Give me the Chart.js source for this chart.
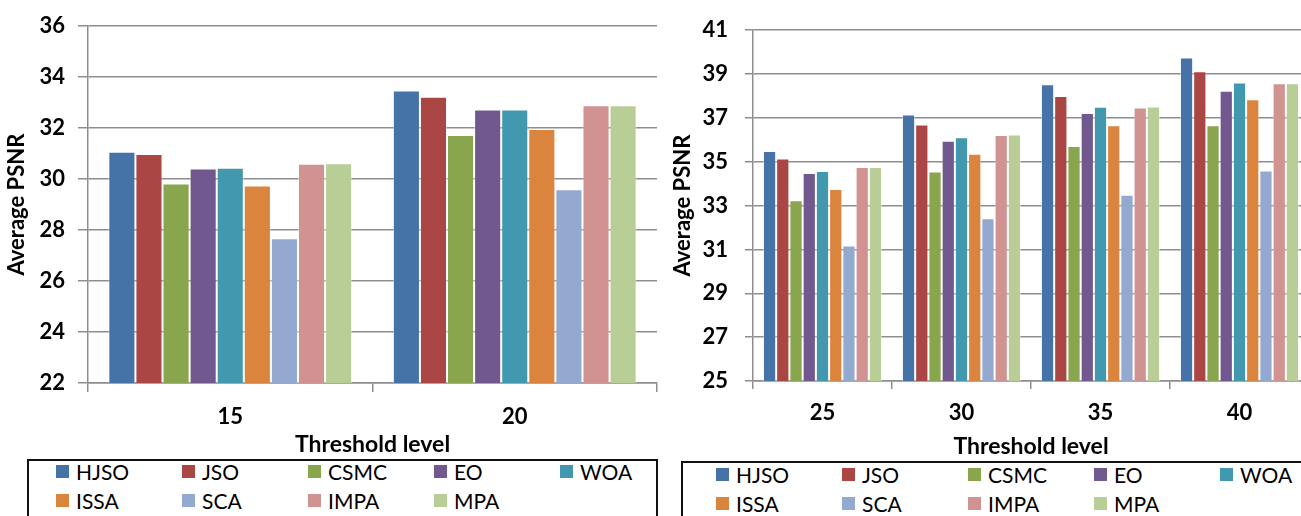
<!DOCTYPE html>
<html>
<head>
<meta charset="utf-8">
<script src="https://cdn.jsdelivr.net/npm/chart.js@4.4.1/dist/chart.umd.min.js"></script>
<style>
  html,body{margin:0;padding:0;background:#fff;overflow:hidden;width:1301px;height:516px}
  .wrap{position:absolute;top:0}
  .legend{position:absolute;border:2px solid #111;box-sizing:border-box;background:#fff}
  .item{position:absolute;display:flex;align-items:center;font-family:Lato,'DejaVu Sans Condensed',sans-serif;font-size:21px;color:#000;white-space:nowrap}
  .item i{display:inline-block;width:13px;height:13px;margin-right:7px}
</style>
</head>
<body>
<div class="wrap" style="left:0;width:660px;height:458px"><canvas id="chLeft"></canvas></div>
<div class="wrap" style="left:660px;width:649px;height:462px"><canvas id="chRight"></canvas></div>
<div class="legend" id="legLeft" style="left:27px;top:459px;width:631px;height:80px"></div>
<div class="legend" id="legRight" style="left:681px;top:461px;width:640px;height:80px"></div>
<script>
// ---------- data ----------
const algos=['HJSO','JSO','CSMC','EO','WOA','ISSA','SCA','IMPA','MPA'];
const colores=['#4572A7','#AA4643','#89A54E','#71588F','#4198AF','#DB843D','#93A9CF','#D19392','#B9CD96'];

const nivelesIzq=['15','20'];
const psnrIzq=[ // one row per algorithm, values for levels 15, 20
  [31.07,33.48], // HJSO
  [30.99,33.23], // JSO
  [29.83,31.73], // CSMC
  [30.42,32.73], // EO
  [30.45,32.73], // WOA
  [29.75,31.97], // ISSA
  [27.68,29.60], // SCA
  [30.60,32.90], // IMPA
  [30.62,32.90]  // MPA
];

const nivelesDer=['25','30','35','40'];
const psnrDer=[ // levels 25, 30, 35, 40
  [35.49,37.15,38.54,39.76], // HJSO
  [35.15,36.70,38.00,39.13], // JSO
  [33.24,34.55,35.72,36.67], // CSMC
  [34.49,35.96,37.22,38.24], // EO
  [34.58,36.12,37.51,38.61], // WOA
  [33.76,35.36,36.67,37.85], // ISSA
  [31.18,32.42,33.49,34.60], // SCA
  [34.76,36.22,37.48,38.58], // IMPA
  [34.76,36.24,37.52,38.58]  // MPA
];

// ---------- chart ----------
const FUENTE="Lato,'DejaVu Sans Condensed',sans-serif";
const gris='#8e8e8e';

function crearGrafico(id,labels,filas,yMin,yMax,cfg){
  const datasets=algos.map((a,i)=>({
    label:a,data:filas[i],backgroundColor:colores[i],
    borderColor:'rgba(255,255,255,0.45)',borderWidth:1,borderSkipped:'bottom',
    barPercentage:1,categoryPercentage:0.857
  }));
  return new Chart(document.getElementById(id),{
    type:'bar',
    data:{labels,datasets},
    options:{
      responsive:true,maintainAspectRatio:false,animation:false,
      layout:{padding:{top:23,right:cfg.padRight,left:0,bottom:0}},
      plugins:{legend:{display:false},tooltip:{enabled:false}},
      scales:{
        x:{
          grid:{display:true,drawOnChartArea:false,drawTicks:true,tickLength:cfg.xTick,color:gris,lineWidth:1.5,offset:true},
          border:{color:gris,width:1.5},
          ticks:{color:'#000',padding:cfg.xPad,font:{family:FUENTE,size:22,weight:'bold'}},
          title:{display:true,text:'Threshold level',color:'#000',padding:{top:0,bottom:cfg.titlePad},font:{family:FUENTE,size:23,weight:'bold'}},
          afterFit:s=>{s.height=cfg.xHeight;}
        },
        y:{
          min:yMin,max:yMax,
          grid:{color:gris,lineWidth:1.5,tickLength:cfg.yTick},
          border:{color:gris,width:1.5},
          ticks:{stepSize:2,color:'#000',padding:cfg.yPad,font:{family:FUENTE,size:22,weight:'bold'}},
          title:{display:true,text:'Average PSNR',color:'#000',padding:{top:cfg.yTitlePad,bottom:0},font:{family:FUENTE,size:22,weight:'bold'}},
          afterFit:s=>{s.width=cfg.yWidth;}
        }
      }
    }
  });
}

crearGrafico('chLeft',nivelesIzq,psnrIzq,22,36,
  {padRight:3,xTick:9,xPad:12,titlePad:0,xHeight:75,yTick:10,yPad:13,yTitlePad:4,yWidth:88});
crearGrafico('chRight',nivelesDer,psnrDer,25,41,
  {padRight:0,xTick:8,xPad:11,titlePad:1.5,xHeight:81,yTick:8,yPad:17,yTitlePad:10,yWidth:93});

// ---------- legends ----------
function pintarLeyenda(id,x0,y0){
  const box=document.getElementById(id);
  box.innerHTML=algos.map((a,i)=>{
    const col=i%5,row=Math.floor(i/5);
    return '<div class="item" style="left:'+(x0+col*126)+'px;top:'+(y0+row*29)+'px">'
      +'<i style="background:'+colores[i]+'"></i>'+a+'</div>';
  }).join('');
}
pintarLeyenda('legLeft',27,-2);
pintarLeyenda('legRight',33,-1);
</script>
</body>
</html>
